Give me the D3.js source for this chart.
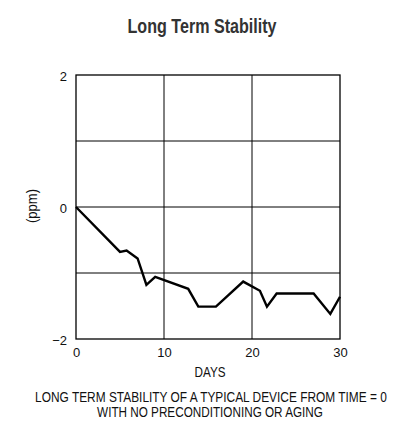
<!DOCTYPE html>
<html>
<head>
<meta charset="utf-8">
<script src="https://cdn.jsdelivr.net/npm/d3@7"></script>
<style>
  body { margin: 0; background: #fff; }
  text { font-family: "Liberation Sans", Arial, sans-serif; fill: #111; }
</style>
</head>
<body>
<svg width="398" height="424"></svg>
<script>
const days = [0, 5, 5.75, 7, 8, 9, 12.75, 13.9, 15.9, 19, 20.9, 21.7, 22.8, 27, 28.9, 30];
const ppm = [0, -0.68, -0.66, -0.78, -1.18, -1.06, -1.24, -1.51, -1.51, -1.13, -1.27, -1.51, -1.31, -1.31, -1.62, -1.36];
const xTicks = [0, 10, 20, 30];
const yTicks = [-2, 0, 2];
const yGrid = [-1, 0, 1];

const svg = d3.select("svg");
const margin = { top: 75, left: 76, right: 58, bottom: 85 };
const width = +svg.attr("width") - margin.left - margin.right;
const height = +svg.attr("height") - margin.top - margin.bottom;

const data = days.map((d, i) => ({ day: d, value: ppm[i] }));

const xScale = d3.scaleLinear().domain([0, 30]).range([0, width]);
const yScale = d3.scaleLinear().domain([-2, 2]).range([height, 0]);

// narrow text: squeeze horizontally to the width seen in the reference
const label = (x, y, txt, size, len, rot = 0, bold = false) => {
  const t = svg.append("text")
    .attr("text-anchor", "middle")
    .attr("font-size", size)
    .attr("font-weight", bold ? "bold" : "normal")
    .text(txt);
  const w = t.node().getComputedTextLength();
  t.attr("transform", `translate(${x},${y}) rotate(${rot}) scale(${len / w},1)`);
  return t;
};

label(202, 33, "Long Term Stability", 20, 149, 0, true)
  .style("fill", "#333");

const g = svg.append("g")
  .attr("transform", `translate(${margin.left},${margin.top})`);

// grid
g.selectAll(".vgrid").data([10, 20]).enter().append("line")
  .attr("x1", d => xScale(d)).attr("x2", d => xScale(d))
  .attr("y1", 0).attr("y2", height)
  .attr("stroke", "#000").attr("stroke-width", 1);
g.selectAll(".hgrid").data(yGrid).enter().append("line")
  .attr("x1", 0).attr("x2", width)
  .attr("y1", d => yScale(d)).attr("y2", d => yScale(d))
  .attr("stroke", "#000").attr("stroke-width", 1);
g.append("rect")
  .attr("width", width).attr("height", height)
  .attr("fill", "none").attr("stroke", "#000").attr("stroke-width", 1.3);

// axes (labels only)
const xAxis = g.append("g")
  .attr("transform", `translate(0,${height})`)
  .call(d3.axisBottom(xScale).tickValues(xTicks).tickSize(0).tickPadding(9));
const yAxis = g.append("g")
  .call(d3.axisLeft(yScale).tickValues(yTicks).tickSize(0).tickPadding(9)
    .tickFormat(d => d < 0 ? "\u2212" + Math.abs(d) : d));
yAxis.selectAll("text").attr("dy", "0.4em");
[xAxis, yAxis].forEach(a => {
  a.select(".domain").remove();
  a.selectAll("text").attr("font-size", 13)
    .style("font-family", '"Liberation Sans", Arial, sans-serif')
    .attr("fill", "#111");
});

// line
g.append("path")
  .datum(data)
  .attr("fill", "none")
  .attr("stroke", "#000")
  .attr("stroke-width", 2.4)
  .attr("stroke-linejoin", "miter")
  .attr("d", d3.line().x(d => xScale(d.day)).y(d => yScale(d.value)));

label(210, 377, "DAYS", 14, 31);
label(37, 206, "(ppm)", 14, 34, -90);
label(211, 401.5, "LONG TERM STABILITY OF A TYPICAL DEVICE FROM TIME = 0", 15, 352);
label(210, 416.5, "WITH NO PRECONDITIONING OR AGING", 15, 226);
</script>
</body>
</html>
